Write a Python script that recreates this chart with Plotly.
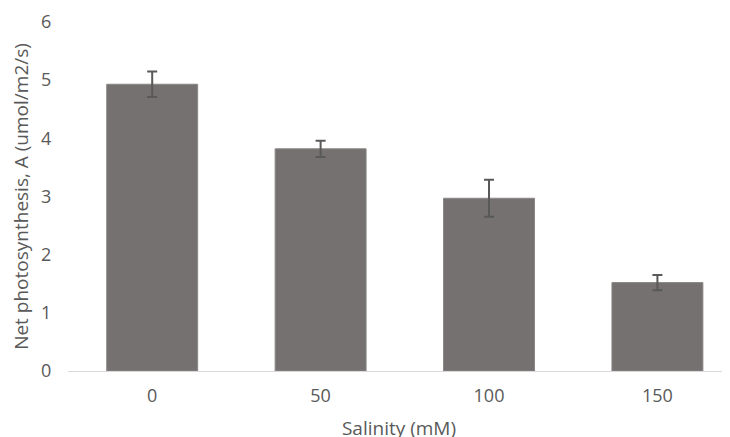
import plotly.graph_objects as go

categories = ["0", "50", "100", "150"]
values = [4.93, 3.82, 2.97, 1.52]
errors = [0.22, 0.14, 0.32, 0.13]
y_ticks = [0, 1, 2, 3, 4, 5, 6]

FONT = "Open Sans"
TXT = "#595959"

fig = go.Figure()
fig.add_trace(go.Bar(
    x=list(range(len(categories))),
    y=values,
    width=0.54,
    marker=dict(color="#767171", line=dict(color="#8a8686", width=1)),
    error_y=dict(type="data", array=errors, visible=True,
                 color="#595959", thickness=2, width=5),
))

# the page body adds an 8px offset; margins compensate for it
fig.update_layout(
    width=730, height=437,
    margin=dict(l=60, r=8, t=14, b=74),
    paper_bgcolor="white", plot_bgcolor="white",
    showlegend=False,
    font=dict(family=FONT, color=TXT, size=18),
    xaxis=dict(
        range=[-0.5, 3.431],
        tickmode="array",
        tickvals=list(range(len(categories))),
        ticktext=categories,
        showgrid=False, zeroline=False,
        showline=True, linecolor="#d9d9d9", linewidth=1,
        ticks="outside", ticklen=0,
        ticklabelstandoff=8,
        tickfont=dict(size=18, color=TXT),
        title=dict(text="Salinity (mM)", font=dict(size=19, color=TXT), standoff=16),
        automargin=False,
    ),
    yaxis=dict(
        range=[0, 6],
        tickmode="array",
        tickvals=y_ticks,
        showgrid=False, zeroline=False, showline=False,
        ticks="outside", ticklen=0,
        ticklabelstandoff=12,
        tickfont=dict(size=18, color=TXT),
        title=dict(text="Net photosynthesis, A (umol/m2/s)",
                   font=dict(size=19, color=TXT), standoff=7),
        automargin=False,
    ),
)

fig.write_html("out.html")
